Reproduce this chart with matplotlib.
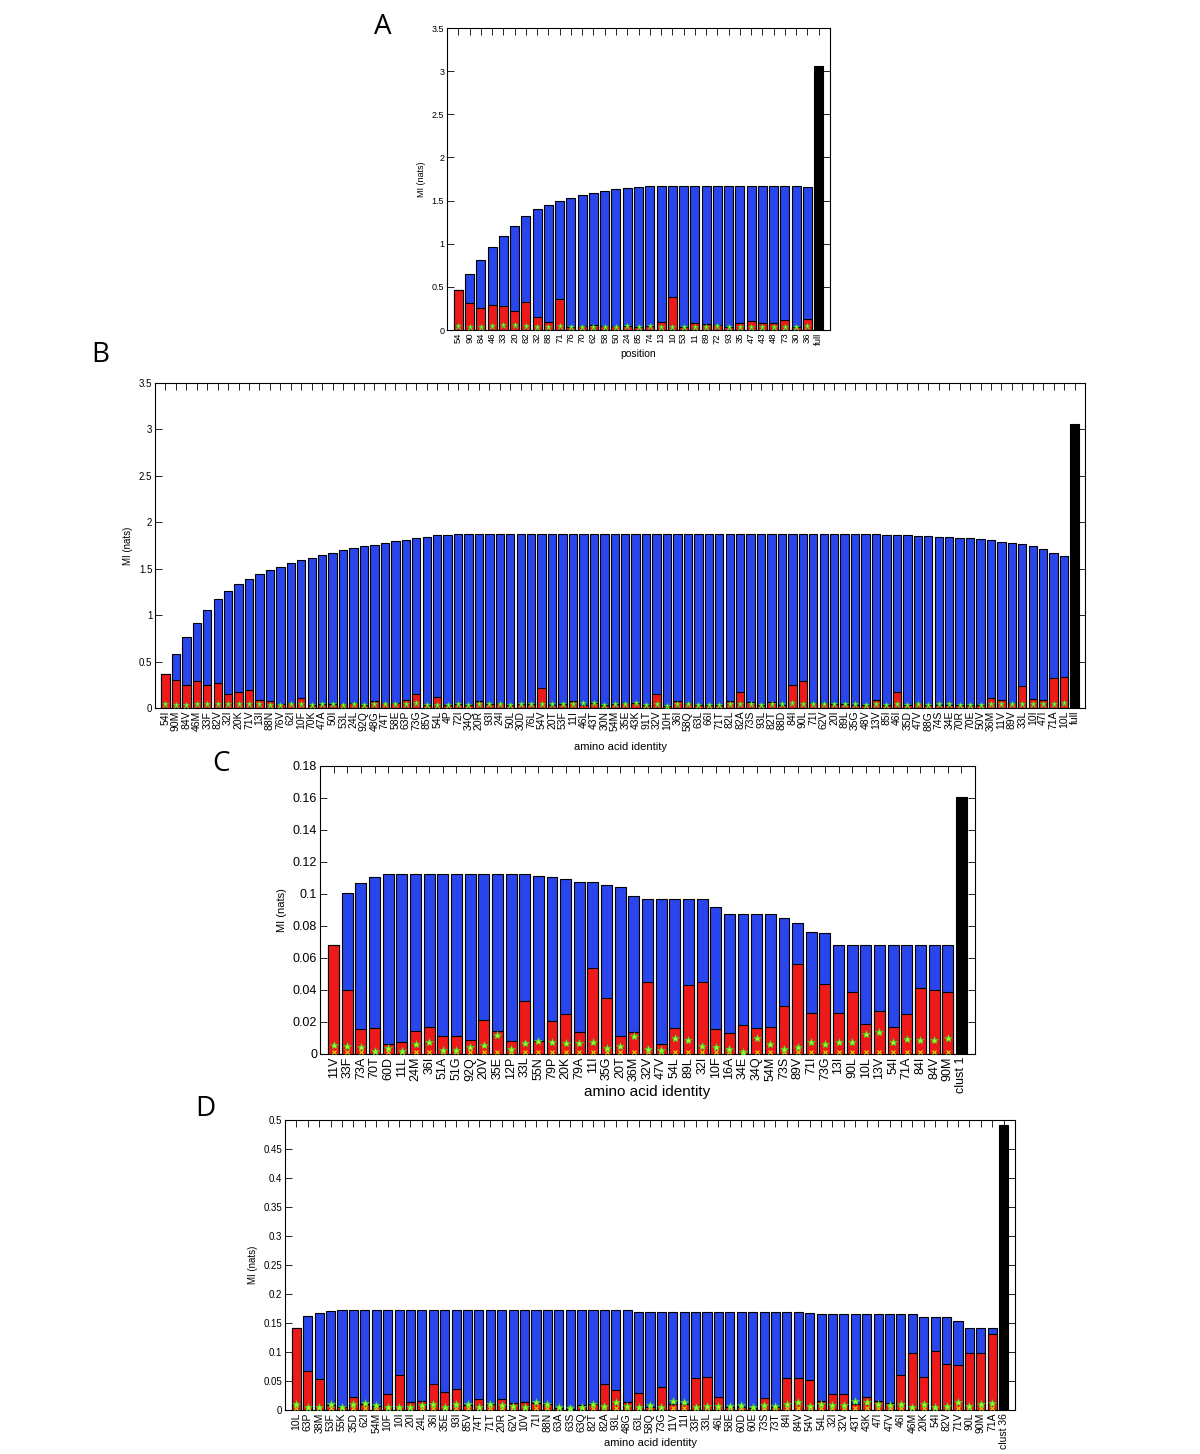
import matplotlib
matplotlib.use('Agg')
import matplotlib.pyplot as plt
import numpy as np

plt.rcParams['font.family'] = ['Liberation Sans', 'DejaVu Sans']

BLUE = '#2846ec'
RED = '#ee1a1a'

# ---------------- Panel A: position ----------------
labels_a = ['54', '90', '84', '46', '33', '20', '82', '32', '88', '71', '76', '70',
            '62', '58', '50', '24', '85', '74', '13', '10', '53', '11', '89', '72',
            '93', '35', '47', '43', '48', '73', '30', '36']
total_a = [0.46, 0.65, 0.81, 0.96, 1.09, 1.20, 1.32, 1.40, 1.45, 1.49, 1.53, 1.56,
           1.59, 1.61, 1.63, 1.645, 1.655, 1.665, 1.67, 1.67, 1.67, 1.67, 1.67, 1.67,
           1.67, 1.67, 1.67, 1.67, 1.67, 1.67, 1.665, 1.655]
red_a = [0.46, 0.31, 0.26, 0.29, 0.28, 0.22, 0.33, 0.15, 0.09, 0.36, 0.04, 0.05,
         0.06, 0.05, 0.05, 0.05, 0.04, 0.05, 0.09, 0.38, 0.04, 0.08, 0.07, 0.06,
         0.04, 0.08, 0.11, 0.08, 0.08, 0.12, 0.04, 0.13]
star_a = [0.05, 0.04, 0.04, 0.05, 0.06, 0.06, 0.05, 0.04, 0.04, 0.05, 0.03, 0.04,
          0.04, 0.03, 0.03, 0.05, 0.03, 0.05, 0.04, 0.04, 0.04, 0.04, 0.04, 0.05,
          0.03, 0.04, 0.04, 0.04, 0.04, 0.04, 0.03, 0.05]
full_a = 3.06

# ---------------- Panel B: amino acid identity ----------------
labels_b = ['54I', '90M', '84V', '46M', '33F', '82V', '32I', '20K', '71V', '13I', '88N',
            '76V', '62I', '10F', '70K', '47A', '50I', '53L', '24L', '92Q', '48G', '74T',
            '58E', '63P', '73G', '85V', '54L', '4P', '72I', '34Q', '20R', '93I', '24I',
            '50L', '30D', '76L', '54V', '20T', '53F', '11I', '46L', '43T', '30N', '54M',
            '35E', '43K', '91T', '32V', '10H', '36I', '58Q', '63L', '66I', '71T', '82L',
            '82A', '73S', '93L', '82T', '88D', '84I', '90L', '71I', '62V', '20I', '89L',
            '35G', '48V', '13V', '85I', '46I', '35D', '47V', '88G', '74S', '34E', '70R',
            '70E', '50V', '36M', '11V', '89V', '33L', '10I', '47I', '71A', '10L']
total_b = [0.37, 0.58, 0.76, 0.91, 1.05, 1.17, 1.26, 1.33, 1.39, 1.44, 1.49,
           1.52, 1.56, 1.59, 1.62, 1.65, 1.67, 1.70, 1.72, 1.74, 1.76, 1.78,
           1.80, 1.81, 1.83, 1.84, 1.86, 1.86, 1.87, 1.875, 1.875, 1.875, 1.875,
           1.875, 1.875, 1.875, 1.875, 1.875, 1.875, 1.875, 1.875, 1.875, 1.875, 1.875,
           1.875, 1.875, 1.875, 1.875, 1.875, 1.875, 1.875, 1.875, 1.875, 1.875, 1.875,
           1.875, 1.875, 1.875, 1.875, 1.875, 1.875, 1.875, 1.875, 1.875, 1.875, 1.875,
           1.875, 1.87, 1.87, 1.865, 1.86, 1.86, 1.855, 1.85, 1.845, 1.84, 1.83,
           1.83, 1.82, 1.81, 1.79, 1.775, 1.77, 1.74, 1.71, 1.668, 1.636]
red_b = [0.37, 0.30, 0.25, 0.29, 0.25, 0.27, 0.15, 0.17, 0.19, 0.09, 0.07,
         0.04, 0.05, 0.11, 0.03, 0.04, 0.04, 0.04, 0.05, 0.03, 0.08, 0.05,
         0.05, 0.09, 0.15, 0.03, 0.12, 0.03, 0.04, 0.03, 0.07, 0.04, 0.05,
         0.03, 0.04, 0.04, 0.22, 0.03, 0.04, 0.07, 0.03, 0.05, 0.03, 0.04,
         0.05, 0.05, 0.03, 0.15, 0.02, 0.08, 0.05, 0.03, 0.03, 0.03, 0.07,
         0.17, 0.06, 0.03, 0.06, 0.03, 0.25, 0.29, 0.05, 0.05, 0.04, 0.04,
         0.03, 0.03, 0.09, 0.03, 0.17, 0.03, 0.05, 0.03, 0.03, 0.03, 0.03,
         0.03, 0.03, 0.11, 0.09, 0.05, 0.24, 0.10, 0.09, 0.32, 0.33]
star_b = [0.04, 0.03, 0.03, 0.04, 0.04, 0.04, 0.04, 0.04, 0.04, 0.04, 0.03,
          0.03, 0.04, 0.04, 0.03, 0.04, 0.04, 0.03, 0.04, 0.03, 0.04, 0.04,
          0.04, 0.04, 0.05, 0.03, 0.03, 0.03, 0.04, 0.03, 0.04, 0.04, 0.04,
          0.03, 0.04, 0.04, 0.04, 0.04, 0.04, 0.04, 0.05, 0.05, 0.03, 0.04,
          0.04, 0.05, 0.03, 0.04, 0.02, 0.04, 0.04, 0.03, 0.03, 0.03, 0.04,
          0.04, 0.04, 0.03, 0.04, 0.04, 0.05, 0.04, 0.04, 0.04, 0.04, 0.04,
          0.04, 0.03, 0.04, 0.03, 0.04, 0.03, 0.04, 0.03, 0.04, 0.04, 0.03,
          0.03, 0.03, 0.04, 0.04, 0.04, 0.04, 0.04, 0.04, 0.04, 0.05]
full_b = 3.06

# ---------------- Panel C: cluster 1 ----------------
labels_c = ['11V', '33F', '73A', '70T', '60D', '11L', '24M', '36I', '51A', '51G', '92Q',
            '20V', '35E', '12P', '33L', '55N', '79P', '20K', '79A', '11I', '35G', '20T',
            '36M', '32V', '47V', '54L', '89L', '32I', '10F', '16A', '34E', '34Q', '54M',
            '73S', '89V', '71I', '73G', '13I', '90L', '10L', '13V', '54I', '71A', '84I',
            '84V', '90M']
total_c = [0.068, 0.1006, 0.107, 0.1105, 0.1124, 0.1124, 0.1124, 0.1124, 0.1124, 0.1124, 0.1124,
           0.1124, 0.1124, 0.1124, 0.1124, 0.1112, 0.1105, 0.1095, 0.1076, 0.1075, 0.1058, 0.1041,
           0.0985, 0.0969, 0.0969, 0.0969, 0.0969, 0.0969, 0.0921, 0.0872, 0.0872, 0.0872, 0.0872,
           0.0851, 0.0816, 0.0760, 0.0754, 0.0681, 0.0681, 0.0681, 0.0681, 0.0681, 0.0681, 0.0681,
           0.0681, 0.0681]
red_c = [0.068, 0.040, 0.0158, 0.016, 0.0063, 0.0076, 0.0143, 0.017, 0.011, 0.011, 0.0088,
         0.0215, 0.0143, 0.0082, 0.033, 0.0082, 0.0206, 0.0248, 0.0139, 0.054, 0.035, 0.0114,
         0.0139, 0.045, 0.0065, 0.016, 0.043, 0.045, 0.0154, 0.013, 0.018, 0.0164, 0.0166,
         0.0297, 0.056, 0.0259, 0.044, 0.0255, 0.039, 0.019, 0.0267, 0.017, 0.0248, 0.041,
         0.040, 0.039]
star_c = [0.0059, 0.0048, 0.0042, 0.0017, 0.0038, 0.0017, 0.0065, 0.0074, 0.0027, 0.0027, 0.0042,
          0.0055, 0.0118, 0.0034, 0.0069, 0.008, 0.0076, 0.0069, 0.0067, 0.0076, 0.0038, 0.0053,
          0.0112, 0.0034, 0.0027, 0.0097, 0.009, 0.0048, 0.0042, 0.0032, 0.001, 0.0101, 0.0063,
          0.0032, 0.0042, 0.0074, 0.0063, 0.0074, 0.0076, 0.0128, 0.0139, 0.0076, 0.0095, 0.009,
          0.0086, 0.0097]
null_c = 0.0013
full_c = 0.1608

# ---------------- Panel D: cluster 36 ----------------
labels_d = ['10L', '63P', '38M', '53F', '55K', '35D', '62I', '54M', '10F', '10I', '20I',
            '24L', '36I', '35E', '93I', '85V', '74T', '71T', '20R', '62V', '10V', '71I',
            '88N', '63A', '63S', '63Q', '82T', '82A', '93L', '48G', '63L', '58Q', '73G',
            '11V', '11I', '33F', '33L', '46L', '58E', '60D', '60E', '73S', '73T', '84I',
            '84V', '54V', '54L', '32I', '32V', '43T', '43K', '47I', '47V', '46I', '46M',
            '20K', '54I', '82V', '71V', '90L', '90M', '71A']
total_d = [0.141, 0.162, 0.167, 0.170, 0.172, 0.172, 0.172, 0.172, 0.172, 0.172, 0.172,
           0.172, 0.172, 0.172, 0.172, 0.172, 0.172, 0.172, 0.172, 0.172, 0.172, 0.172,
           0.172, 0.172, 0.172, 0.172, 0.172, 0.172, 0.172, 0.172, 0.1697, 0.1697, 0.1697,
           0.1697, 0.1697, 0.1697, 0.1697, 0.1697, 0.1697, 0.1697, 0.1697, 0.1697, 0.1697, 0.1697,
           0.1697, 0.1674, 0.165, 0.165, 0.165, 0.165, 0.165, 0.165, 0.165, 0.165, 0.165,
           0.161, 0.161, 0.161, 0.154, 0.141, 0.141, 0.141]
red_d = [0.141, 0.068, 0.054, 0.009, 0.005, 0.023, 0.010, 0.007, 0.028, 0.060, 0.013,
         0.015, 0.044, 0.031, 0.036, 0.0085, 0.019, 0.010, 0.019, 0.012, 0.013, 0.012,
         0.010, 0.0034, 0.0017, 0.009, 0.010, 0.045, 0.035, 0.013, 0.030, 0.0045, 0.040,
         0.010, 0.010, 0.055, 0.057, 0.023, 0.0057, 0.0045, 0.0034, 0.020, 0.0057, 0.056,
         0.056, 0.052, 0.015, 0.028, 0.028, 0.010, 0.023, 0.016, 0.012, 0.060, 0.098,
         0.057, 0.102, 0.080, 0.077, 0.098, 0.099, 0.131]
star_d = [0.011, 0.0045, 0.0045, 0.011, 0.0045, 0.010, 0.012, 0.009, 0.0057, 0.0057, 0.0057,
          0.009, 0.010, 0.0057, 0.010, 0.010, 0.0057, 0.011, 0.009, 0.0074, 0.0057, 0.013,
          0.011, 0.0045, 0.003, 0.0045, 0.010, 0.0074, 0.013, 0.0074, 0.0057, 0.0085, 0.0057,
          0.016, 0.013, 0.0057, 0.0074, 0.0074, 0.0074, 0.0085, 0.0057, 0.0085, 0.0074, 0.011,
          0.013, 0.0074, 0.010, 0.009, 0.009, 0.016, 0.013, 0.010, 0.0085, 0.010, 0.0057,
          0.010, 0.0057, 0.0074, 0.013, 0.0074, 0.010, 0.012]
null_d = 0.003
full_d = 0.492


def panel(rect, letter, letter_xy, labels, total, red, star, full_label, full_value,
          ymax, ystep, xlabel, label_y, fs_tick, fs_x, fs_ylab, fs_xlab,
          null=None, msize=6):
    ax = fig.add_axes(rect)
    n = len(labels)
    x = np.arange(1, n + 1)
    # barras: total (azul), aporte individual (rojo), MI completa (negro)
    ax.bar(x, total, width=0.8, color=BLUE, edgecolor='black', linewidth=0.8, zorder=2)
    ax.bar(x, red, width=0.8, color=RED, edgecolor='black', linewidth=0.8, zorder=3)
    ax.bar([n + 1], [full_value], width=0.8, color='black', edgecolor='black',
           linewidth=0.8, zorder=3)
    if null is not None:
        ax.plot(x, np.full(n, null), 'x', color='#d2dc00', markersize=msize * 0.6,
                markeredgewidth=0.8, zorder=4)
    ax.plot(x, star, '*', markerfacecolor='#9cff1c', markeredgecolor='#3cc83c',
            markeredgewidth=0.5, markersize=msize, zorder=5)
    ax.set_xlim(0, n + 2)
    ax.set_ylim(0, ymax)
    ax.set_xticks(list(x) + [n + 1])
    ax.set_xticklabels(labels + [full_label], rotation=90, fontsize=fs_x)
    yt = np.arange(0, ymax + ystep / 2, ystep)
    ax.set_yticks(yt)
    ax.set_yticklabels(['%g' % round(v, 3) for v in yt], fontsize=fs_tick)
    ax.tick_params(direction='in', top=True, right=True, length=5, width=0.6, pad=2)
    for s in ax.spines.values():
        s.set_linewidth(0.8)
    ax.set_ylabel('MI (nats)', fontsize=fs_ylab, labelpad=4)
    ax.set_xlabel(xlabel, fontsize=fs_xlab)
    ax.xaxis.set_label_coords(0.5, label_y)
    fig.text(letter_xy[0] / 1200, 1 - letter_xy[1] / 1454, letter, fontsize=20,
             family=['Open Sans', 'DejaVu Sans'], ha='center', va='center')
    return ax


fig = plt.figure(figsize=(12, 14.54), dpi=100)

panel([447 / 1200, 1 - 330 / 1454, 383 / 1200, 302 / 1454], 'A', (383, 27),
      labels_a, total_a, red_a, star_a, 'full', full_a, 3.5, 0.5, 'position', -0.063,
      6.5, 6.8, 6.5, 7.5, msize=5)
panel([155 / 1200, 1 - 708 / 1454, 930 / 1200, 325 / 1454], 'B', (100, 355),
      labels_b, total_b, red_b, star_b, 'full', full_b, 3.5, 0.5, 'amino acid identity',
      -0.104, 7, 7.5, 7, 8, msize=5)
panel([320 / 1200, 1 - 1054 / 1454, 655 / 1200, 288 / 1454], 'C', (221, 764),
      labels_c, total_c, red_c, star_c, 'clust 1', full_c, 0.18, 0.02, 'amino acid identity',
      -0.107, 9, 9, 8, 11, null=null_c, msize=6)
panel([285 / 1200, 1 - 1410 / 1454, 730 / 1200, 290 / 1454], 'D', (205, 1109),
      labels_d, total_d, red_d, star_d, 'clust 36', full_d, 0.5, 0.05, 'amino acid identity',
      -0.098, 7, 7.5, 7, 8, null=null_d, msize=6)

fig.savefig('out.png', dpi=100)
